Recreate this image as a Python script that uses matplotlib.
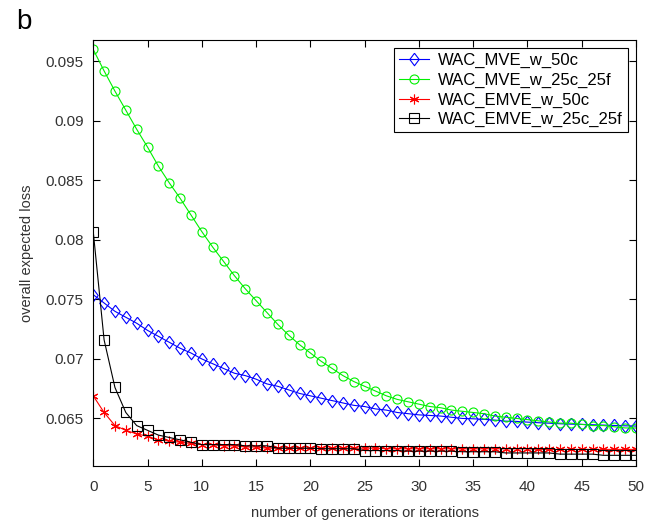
import matplotlib
matplotlib.use("Agg")
import matplotlib.pyplot as plt
from matplotlib.ticker import FuncFormatter

plt.rcParams['font.family'] = ['Liberation Sans', 'DejaVu Sans']

# generations 0..50
generaciones = list(range(51))

mve_50c = [0.0754, 0.0747, 0.0740, 0.0735, 0.0730, 0.0724, 0.0719, 0.0714, 0.0709, 0.0705,
           0.0700, 0.0696, 0.0692, 0.0688, 0.0686, 0.0683, 0.0679, 0.0677, 0.0674, 0.0671,
           0.0669, 0.0667, 0.0665, 0.0663, 0.0661, 0.0660, 0.0658, 0.0657, 0.0655, 0.0654,
           0.0653, 0.06525, 0.0652, 0.0651, 0.0650, 0.06497, 0.06492, 0.06486, 0.06477, 0.06475,
           0.06469, 0.06464, 0.0646, 0.06455, 0.06452, 0.0645, 0.06447, 0.06444, 0.06441, 0.06438,
           0.06436]

mve_25c_25f = [0.0960, 0.0942, 0.0925, 0.0909, 0.0893, 0.0878, 0.0862, 0.0848, 0.0835, 0.0821,
               0.0807, 0.0794, 0.0782, 0.0770, 0.0759, 0.0749, 0.0739, 0.0729, 0.0720, 0.0712,
               0.0705, 0.0698, 0.0692, 0.0686, 0.0681, 0.0677, 0.0673, 0.0669, 0.0666, 0.0664,
               0.0662, 0.0660, 0.0659, 0.0657, 0.0656, 0.0655, 0.0654, 0.0652, 0.0651, 0.0650,
               0.0649, 0.0648, 0.0647, 0.0646, 0.0646, 0.0645, 0.0644, 0.0644, 0.0643, 0.0642,
               0.0642]

emve_50c = [0.0669, 0.0655, 0.0644, 0.0640, 0.0637, 0.0635, 0.0632, 0.0631, 0.0630, 0.0629,
            0.0628, 0.0628, 0.0627, 0.0627, 0.0626, 0.0626, 0.0625, 0.0625, 0.0625, 0.0625,
            0.0625, 0.0625, 0.0625, 0.0625, 0.0625, 0.0625, 0.0625, 0.06245, 0.06245, 0.06245,
            0.06245, 0.06245, 0.06245, 0.06245, 0.06245, 0.06245, 0.06245, 0.06245, 0.06245, 0.06245,
            0.06245, 0.0624, 0.0624, 0.0624, 0.0624, 0.0624, 0.0624, 0.0624, 0.0624, 0.0624,
            0.0624]

emve_25c_25f = [0.0807, 0.0716, 0.0676, 0.0655, 0.0644, 0.0640, 0.0636, 0.0634, 0.0632, 0.0630,
                0.0628, 0.0628, 0.0628, 0.0628, 0.0627, 0.0627, 0.0627, 0.0625, 0.0625, 0.0625,
                0.0625, 0.06245, 0.06245, 0.06245, 0.06245, 0.0623, 0.0623, 0.0623, 0.0623, 0.06225,
                0.06225, 0.06225, 0.06225, 0.06225, 0.0622, 0.0622, 0.0622, 0.0622, 0.0621, 0.0621,
                0.0621, 0.0621, 0.0621, 0.0620, 0.0620, 0.0620, 0.0620, 0.0619, 0.0619, 0.0619,
                0.0619]

asterisco = (6, 2, 0)  # marcador tipo asterisco (estilo matlab)
rombo = [(0, 1), (0.75, 0), (0, -1), (-0.75, 0), (0, 1)]

series = [
    ("WAC_MVE_w_50c", mve_50c, "#0000ff", rombo, 9),
    ("WAC_MVE_w_25c_25f", mve_25c_25f, "#00f000", "o", 6.5),
    ("WAC_EMVE_w_50c", emve_50c, "#ff0000", asterisco, 7),
    ("WAC_EMVE_w_25c_25f", emve_25c_25f, "#000000", "s", 6.5),
]

fig = plt.figure(figsize=(6.66, 5.26), dpi=100)
ax = fig.add_axes([0.140, 0.114, 0.815, 0.810])

for nombre, valores, color, marcador, tam in series:
    ax.plot(generaciones, valores, color=color, marker=marcador, markersize=tam,
            markerfacecolor='none', markeredgecolor=color, markeredgewidth=0.8,
            linewidth=0.8, label=nombre)

ax.set_xlim(0, 50)
ax.set_ylim(0.0610, 0.0968)
ax.set_xticks(range(0, 51, 5))
ax.set_yticks([0.065, 0.07, 0.075, 0.08, 0.085, 0.09, 0.095])
ax.yaxis.set_major_formatter(FuncFormatter(lambda v, p: f"{v:g}"))
ax.tick_params(direction='in', top=True, right=True, length=5, width=0.8,
               labelsize=11, colors='black', labelcolor='#333333')
ax.tick_params(axis='x', pad=10)
ax.tick_params(axis='y', pad=7)
for s in ax.spines.values():
    s.set_linewidth(0.8)

ax.set_xlabel("number of generations or iterations", fontsize=10.5, color='#333333', labelpad=9)
ax.set_ylabel("overall expected loss", fontsize=10.5, color='#333333', labelpad=8)

leg = ax.legend(loc='upper right', fontsize=12, fancybox=False, edgecolor='black',
                framealpha=1, handlelength=1.8, handletextpad=0.55, borderpad=0.3,
                labelspacing=0.27, borderaxespad=0.5)
leg.get_frame().set_linewidth(0.8)

fig.text(0.025, 0.945, "b", fontsize=20)

fig.savefig("out.png", dpi=100)
